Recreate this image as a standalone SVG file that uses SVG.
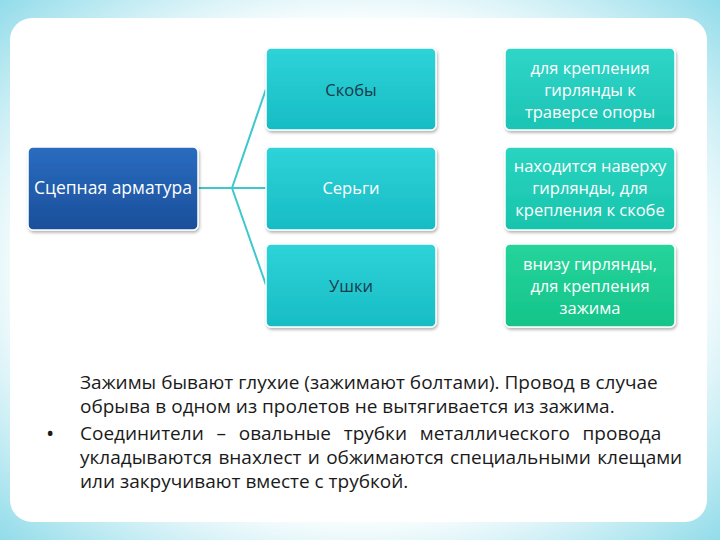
<svg xmlns="http://www.w3.org/2000/svg" width="720" height="540" viewBox="0 0 720 540">
<defs>
<radialGradient id="bg" cx="50%" cy="50%" r="75%"><stop offset="0.6" stop-color="#ffffff"/><stop offset="1" stop-color="#7fd6e6"/></radialGradient>
<linearGradient id="blue" x1="0" y1="0" x2="0" y2="1"><stop offset="0" stop-color="#2a6cc0"/><stop offset="1" stop-color="#1a4f9a"/></linearGradient>
<linearGradient id="teal" x1="0" y1="0" x2="0" y2="1"><stop offset="0" stop-color="#2ed3d8"/><stop offset="1" stop-color="#17bcc4"/></linearGradient>
<linearGradient id="g1" x1="0" y1="0" x2="0" y2="1"><stop offset="0" stop-color="#30d6c8"/><stop offset="1" stop-color="#1cc4b4"/></linearGradient>
<linearGradient id="g2" x1="0" y1="0" x2="0" y2="1"><stop offset="0" stop-color="#2ad4c0"/><stop offset="1" stop-color="#18c4ac"/></linearGradient>
<linearGradient id="g3" x1="0" y1="0" x2="0" y2="1"><stop offset="0" stop-color="#26d49c"/><stop offset="1" stop-color="#14c488"/></linearGradient>
<filter id="sh" x="-10%" y="-10%" width="120%" height="130%"><feDropShadow dx="1" dy="2" stdDeviation="1.5" flood-opacity="0.3"/></filter>
<style>
.box{stroke:#ffffff;stroke-width:1.5;filter:url(#sh)}
.t{font-family:"Open Sans","Liberation Sans",sans-serif;font-size:16.5px;text-anchor:middle}
.w{fill:#ffffff}
.d{fill:#1a3a4a}
.body{font-family:"Open Sans","Liberation Sans",sans-serif;font-size:19px;fill:#1a1a1a}
.c{fill:none;stroke:#3cc8cc;stroke-width:2}
</style>
</defs>
<rect width="720" height="540" fill="url(#bg)"/>
<rect x="10" y="18" width="697" height="504" rx="22" fill="#ffffff"/>
<g id="connectors">
<path class="c" d="M198 188 L232 188 L266 89 M232 188 L266 188 M232 188 L266 285"/>
</g>
<g id="n0"><rect class="box" x="28" y="147" width="170" height="83" rx="5" fill="url(#blue)"/><text class="t w" x="113" y="194" style="font-size:17.5px">Сцепная арматура</text></g>
<g id="n1"><rect class="box" x="266" y="48" width="170" height="82" rx="5" fill="url(#teal)"/><text class="t d" x="351" y="96">Скобы</text></g>
<g id="n2"><rect class="box" x="266" y="147" width="170" height="83" rx="5" fill="url(#teal)"/><text class="t w" x="351" y="194">Серьги</text></g>
<g id="n3"><rect class="box" x="266" y="244" width="170" height="83" rx="5" fill="url(#teal)"/><text class="t d" x="351" y="292">Ушки</text></g>
<g id="n4"><rect class="box" x="505" y="48" width="170" height="82" rx="5" fill="url(#g1)"/><text class="t w" x="590" y="74">для крепления</text><text class="t w" x="590" y="96">гирлянды к</text><text class="t w" x="590" y="118">траверсе опоры</text></g>
<g id="n5"><rect class="box" x="505" y="147" width="170" height="83" rx="5" fill="url(#g2)"/><text class="t w" x="590" y="172">находится наверху</text><text class="t w" x="590" y="194">гирлянды, для</text><text class="t w" x="590" y="216">крепления к скобе</text></g>
<g id="n6"><rect class="box" x="505" y="244" width="170" height="83" rx="5" fill="url(#g3)"/><text class="t w" x="590" y="270">внизу гирлянды,</text><text class="t w" x="590" y="292">для крепления</text><text class="t w" x="590" y="314">зажима</text></g>
<g id="text">
<text class="body" x="80" y="389">Зажимы бывают глухие (зажимают болтами). Провод в случае</text>
<text class="body" x="80" y="413">обрыва в одном из пролетов не вытягивается из зажима.</text>
<text class="body" x="46" y="441" style="font-size:22px">•</text>
<text class="body" x="80" y="440" style="word-spacing:7.8px">Соединители – овальные трубки металлического провода</text>
<text class="body" x="80" y="464" style="word-spacing:1.4px">укладываются внахлест и обжимаются специальными клещами</text>
<text class="body" x="80" y="488">или закручивают вместе с трубкой.</text>
</g>
</svg>
